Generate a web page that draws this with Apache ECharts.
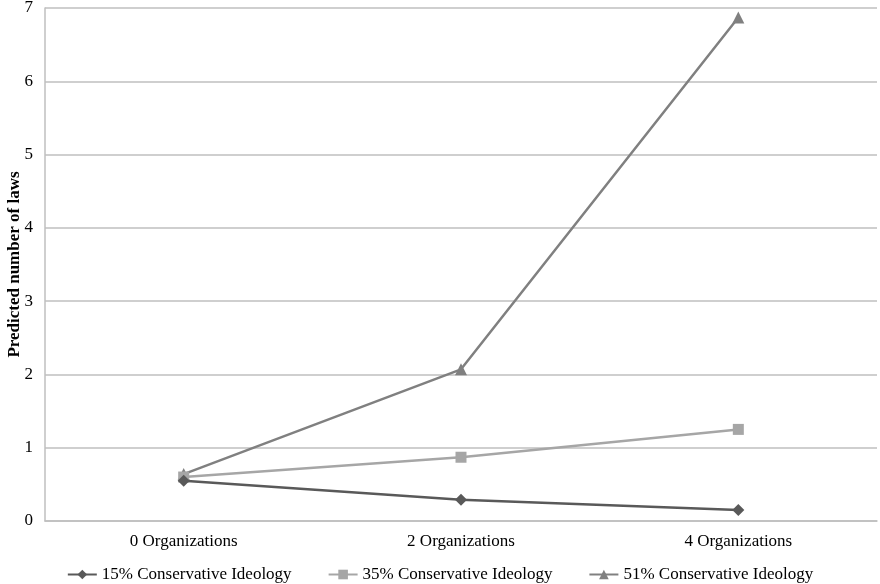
<!DOCTYPE html>
<html><head><meta charset="utf-8">
<script src="https://cdn.jsdelivr.net/npm/echarts@6/dist/echarts.min.js"></script>
<style>html,body{margin:0;padding:0;background:#fff}#c{width:880px;height:584px}</style>
</head><body><div id="c"></div>
<script>
const categories = ['0 Organizations', '2 Organizations', '4 Organizations'];
const seriesNames = ['15% Conservative Ideology', '35% Conservative Ideology', '51% Conservative Ideology'];
const values15 = [0.55, 0.29, 0.15];
const values35 = [0.60, 0.87, 1.25];
const values51 = [0.64, 2.07, 6.87];
const yTicks = [0, 1, 2, 3, 4, 5, 6, 7];

const font = 'Liberation Serif, Times New Roman, serif';
const colors = ['#595959', '#a6a6a6', '#808080'];
const symbols = ['diamond', 'rect', 'triangle'];
const data = [values15, values35, values51];

const chart = echarts.init(document.getElementById('c'));
chart.setOption({
  animation: false,
  backgroundColor: '#fff',
  textStyle: { fontFamily: font },
  grid: { left: 45, right: 3, top: 8, bottom: 63, containLabel: false, outerBoundsMode: 'none' },
  legend: {
    top: 561, left: 'center',
    itemGap: 36, itemWidth: 29, itemHeight: 12,
    textStyle: { fontFamily: font, fontSize: 17, color: '#000' },
    data: seriesNames
  },
  xAxis: {
    type: 'category', data: categories, boundaryGap: true,
    axisLine: { show: true, lineStyle: { color: '#bfbfbf', width: 1.5 } },
    axisTick: { show: false },
    axisLabel: { color: '#000', fontSize: 17, fontFamily: font, margin: 12 }
  },
  yAxis: {
    type: 'value', min: yTicks[0], max: yTicks[yTicks.length - 1], interval: 1,
    name: 'Predicted number of laws', nameLocation: 'middle', nameGap: 22, nameMoveOverlap: false,
    nameTextStyle: { fontFamily: font, fontSize: 17, fontWeight: 'bold', color: '#000' },
    axisLine: { show: true, lineStyle: { color: '#bfbfbf', width: 1.5 } },
    axisTick: { show: false },
    axisLabel: { color: '#000', fontSize: 17, fontFamily: font, margin: 12 },
    splitLine: { lineStyle: { color: '#bfbfbf', width: 1.5 } }
  },
  series: seriesNames.map((n, i) => ({
    name: n, type: 'line', data: data[i],
    symbol: symbols[i], symbolSize: symbols[i] === 'rect' ? 11 : 12,
    lineStyle: { color: colors[i], width: 2.5 },
    itemStyle: { color: colors[i] },
    z: 3 - i
  }))
});
</script></body></html>
